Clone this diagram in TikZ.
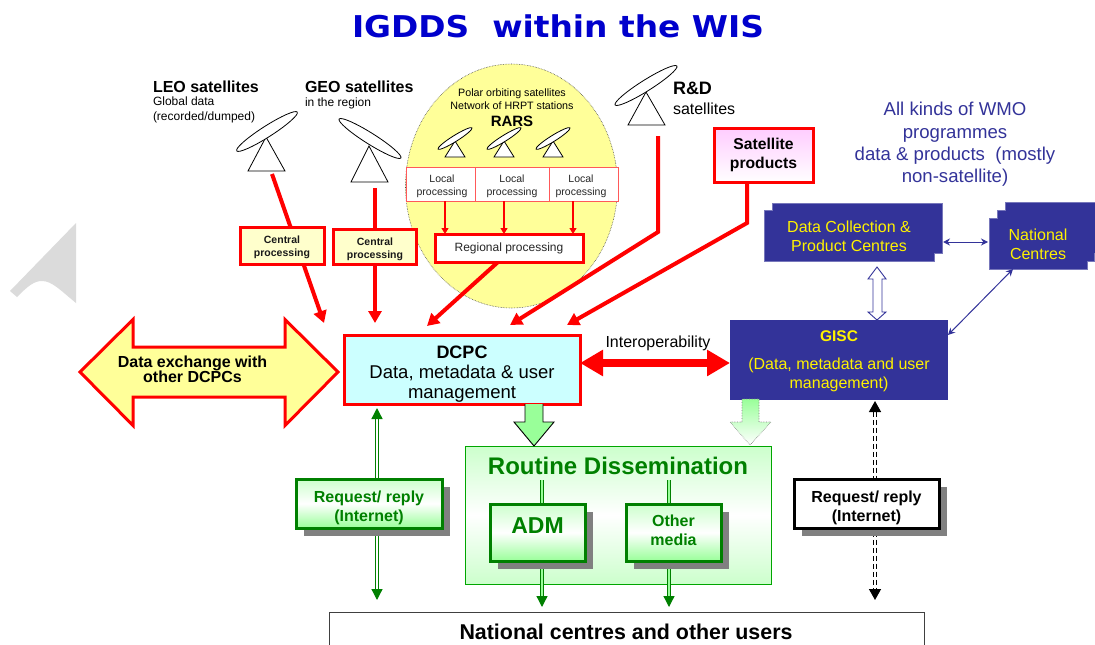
\documentclass[tikz,border=0pt]{standalone}
\usepackage{fontspec}
\setmainfont{Liberation Sans}
\newfontfamily\titlefont{DejaVu Sans}
\usetikzlibrary{arrows.meta,shadows,calc}
\pgfdeclarelayer{bg}\pgfdeclarelayer{links}
\pgfsetlayers{bg,links,main}
\definecolor{navy}{HTML}{333399}
\definecolor{navyl}{HTML}{7777BB}
\definecolor{ylw}{HTML}{FFFF99}
\definecolor{lylw}{HTML}{FFFFCC}
\definecolor{grn}{HTML}{008000}
\definecolor{lgrn}{HTML}{99FF99}
\definecolor{pgrn}{HTML}{CCFFCC}
\definecolor{lcyan}{HTML}{CCFFFF}
\definecolor{lmag}{HTML}{FFCCFF}
\definecolor{tblue}{HTML}{0000CC}
\newcommand{\fs}[2]{\fontsize{#1}{#2}\selectfont}
\tikzset{
 x=1pt,y=-1pt,
 every node/.style={inner sep=0pt,outer sep=0pt,align=center},
 boxn/.style 2 args={minimum width=#1,minimum height=#2},
 lefttxt/.style={anchor=west,align=left},
 dish/.style={draw=black,line width=.8,fill=white},
 redbold/.style={draw=red,line width=3},
 cent/.style={redbold,fill=lylw},
 centt/.style={font=\fs{10.5}{13}\bfseries,text=black!90},
 localb/.style={draw=red!65,line width=.9,fill=white},
 localt/.style={font=\fs{10.5}{13.2},text=black!85},
 redarrow/.style={draw=red,line width=4,line join=miter,-{Triangle[length=12,width=13]}},
 thinred/.style={draw=red,line width=1.2,-{Triangle[length=6,width=7]}},
 navyb/.style={text=yellow,font=\fs{16}{19}},
 navyarrow/.style={draw=navy,line width=1,{Stealth[length=7,width=7]}-{Stealth[length=7,width=7]}},
 gshadow/.style={general shadow={fill=black!50,shadow xshift=8pt,shadow yshift=-8pt}},
 gbox/.style={draw=grn,line width=3,gshadow,top color=pgrn,bottom color=lgrn,middle color=white},
 gdouble/.style={draw=grn,line width=1.3,double=white,double distance=2,{Triangle[length=11,width=11]}-{Triangle[length=11,width=11]}},
 gdown/.style={draw=grn,line width=1.3,double=lgrn,double distance=2,-{Triangle[length=11,width=11]}},
 kdouble/.style={draw=black,line width=1.4,double=white,double distance=1.4,dash pattern=on 5pt off 3pt,{Triangle[length=11,width=12]}-{Triangle[length=11,width=12]}},
 gtext/.style={text=grn,font=\fs{16}{19}\bfseries},
}
\begin{document}
\begin{tikzpicture}
\useasboundingbox (0,0) rectangle (1095,645);
\clip (0,0) rectangle (1095,645);

\node[text=tblue,font=\titlefont\fs{30}{32}\bfseries] (title) at (558,26) {\scalebox{1.095}[1]{IGDDS\ \ within the WIS}};

% grey mark
\fill[black!14] (76,223) -- (10,291) -- (17,297) .. controls (28,286) and (34,281) .. (42,281) .. controls (52,281) and (60,290) .. (76,303) -- cycle;

% RARS ellipse
\begin{pgfonlayer}{bg}
\draw[fill=ylw,draw=black!70,densely dotted,line width=.6] (511.5,186) ellipse [x radius=106,y radius=122];
\end{pgfonlayer}

% Dishes
\draw[dish] (266,137) -- (248,171) -- (285,171) -- cycle;
\draw[dish,rotate around={32.6:(267,131.5)}] (267,131.5) ellipse [x radius=36,y radius=5.5];
\draw[dish] (369,146) -- (351,182) -- (388,182) -- cycle;
\draw[dish,rotate around={-32.2:(370,138.5)}] (370,138.5) ellipse [x radius=36.5,y radius=5.5];
\draw[dish] (646,92) -- (628,125) -- (665,125) -- cycle;
\draw[dish,rotate around={32.2:(646,85.5)}] (646,85.5) ellipse [x radius=36.5,y radius=5.5];
\foreach \dx in {455,504,553}{
 \draw[dish] (\dx,141) -- (\dx-10,157) -- (\dx+10,157) -- cycle;
 \draw[dish,rotate around={32:(\dx,138.5)}] (\dx,138.5) ellipse [x radius=20,y radius=3];
}

% Labels top
\node[lefttxt,font=\fs{16}{17}\bfseries] (leo) at (153,87) {LEO satellites};
\node[lefttxt,font=\fs{12}{15}] (leod) at (153,110) {Global data\\(recorded/dumped)};
\node[lefttxt,font=\fs{16}{17}\bfseries] (geo) at (305,87) {GEO satellites};
\node[lefttxt,font=\fs{12}{15}] (geod) at (305,103) {in the region};
\node[font=\fs{10.7}{13}] (polar) at (512,99) {Polar orbiting satellites\\Network of HRPT stations};
\node[font=\fs{15}{17}\bfseries] (rars) at (512,121) {RARS};
\node[lefttxt,font=\fs{18}{18}\bfseries] (rd) at (673,88) {R\&D};
\node[lefttxt,font=\fs{16}{17}] (rds) at (673,109) {satellites};
\node[text=navy,font=\fs{18.6}{22.4}] (wmo) at (955,144.5) {All kinds of WMO\\programmes\\data \& products\ \ (mostly\\non-satellite)};

% Local / regional
\node[localb,boxn={69}{34}] (l1) at (440.5,184) {};
\node[localt] (l1t) at (442,186) {Local\\processing};
\node[localb,boxn={74}{34}] (l2) at (512,184) {};
\node[localt] (l2t) at (512,186) {Local\\processing};
\node[localb,boxn={69}{34}] (l3) at (583.5,184) {};
\node[localt] (l3t) at (581,186) {Local\\processing};
\node[draw=red,line width=3,fill=white,boxn={148}{28},font=\fs{12}{15},text=black!85] (reg) at (509,248) {Regional processing};
\draw[thinred] (l1.south -| 445,0) -- (reg.north -| 445,0);
\draw[thinred] (l2.south -| 504,0) -- (reg.north -| 504,0);
\draw[thinred] (l3.south -| 573,0) -- (reg.north -| 573,0);

% Central, sat products
\node[cent,boxn={84}{37}] (c1) at (282,245.5) {};
\node[centt] (c1t) at (282,247) {Central\\processing};
\node[cent,boxn={83}{35}] (c2) at (374.5,246.5) {};
\node[centt] (c2t) at (375,249) {Central\\processing};
\node[redbold,boxn={99}{54},top color=lmag,bottom color=white,font=\fs{15.7}{19}\bfseries] (prod) at (763.5,155) {Satellite\\products};

% DCPC etc
\node[redbold,fill=lcyan,boxn={236}{69}] (dcpc) at (462,369.5) {};
\node[font=\fs{18}{20}\bfseries] (dcpcn) at (462,352) {DCPC};
\node[font=\fs{18.5}{20}] (dcpct) at (462,384) {Data, metadata \& user\\management};
\draw[fill=ylw,draw=red,line width=3,line join=miter] (80,372) -- (133,319.5) -- (133,347) -- (285,347) -- (285,319.5) -- (338,372) -- (285,425.5) -- (285,397) -- (133,397) -- (133,425.5) -- cycle;
\node[font=\fs{16}{15}\bfseries] (dex) at (192.5,369.5) {Data exchange with\\other DCPCs};

\node[fill=navy,draw=none,boxn={218}{80}] (gisc) at (839,359.5) {};
\node[text=yellow,font=\fs{15.5}{16}\bfseries] (gisct) at (839,336) {GISC};
\node[navyb] (giscd) at (839,374.5) {(Data, metadata and user\\management)};
\node[font=\fs{16}{17}] (inter) at (658,343) {Interoperability};
\coordinate (ia) at (dcpc.east |- 0,363);
\coordinate (ib) at (gisc.west |- 0,363);
\draw[draw=red,line width=8,{Triangle[length=23,width=25]}-{Triangle[length=23,width=25]}] (ia) -- (ib);

% Stacked navy
\draw[fill=navy,draw=navyl,line width=.6] (772,203) -- (942,203) -- (942,253) -- (934,253) -- (934,261) -- (764,261) -- (764,210) -- (772,210) -- cycle;
\node[navyb,boxn={170}{51}] (dcp) at (849,236.5) {Data Collection \&\\Product Centres};
\draw[fill=navy,draw=navyl,line width=.6] (1005,202) -- (1100,202) -- (1100,253) -- (1094.5,253) -- (1094.5,261) -- (1087,261) -- (1087,269) -- (989,269) -- (989,218) -- (997,218) -- (997,210) -- (1005,210) -- cycle;
\node[navyb,boxn={98}{51}] (nat) at (1038,244) {National\\Centres};
\draw[navyarrow] (943,242) -- (988,242);
\coordinate (d1) at (1013,269);
\coordinate (d2) at (948,335);
\draw[navyarrow] (d1) -- (d2);
\draw[fill=white,draw=navy,line width=.9] (877,267) -- (886,279) -- (882,279) -- (882,312) -- (886,312) -- (877,320) -- (868,312) -- (873,312) -- (873,279) -- (868,279) -- cycle;

% Routine
\begin{pgfonlayer}{bg}
\node[draw=green!65!black,line width=.9,top color=pgrn,bottom color=pgrn,middle color=white,boxn={306}{138}] (rout) at (618,515) {};
\end{pgfonlayer}
\node[text=grn,font=\fs{24}{26}\bfseries] (routt) at (618,466) {Routine Dissemination};

% fat arrows
\draw[draw=black,line width=.9,fill=lgrn] (525,404) -- (525,422) -- (514,422) -- (534,446) -- (554,422) -- (543,422) -- (543,404);
\shade[top color=lgrn,bottom color=white,draw=black!50,densely dotted,line width=.6] (742,399) -- (742,422) -- (730,422) -- (750,445) -- (771,422) -- (759,422) -- (759,399) -- cycle;

% boxes
\node[gbox,boxn={146}{49}] (rq1) at (369,503.5) {};
\node[gtext] (rq1t) at (369,507.5) {Request/ reply\\(Internet)};
\node[gbox,boxn={95}{57}] (adm) at (537.5,532.5) {};
\node[text=grn,font=\fs{23}{26}\bfseries] (admt) at (537.5,525.5) {ADM};
\node[gbox,boxn={95}{57}] (oth) at (673.5,532.5) {};
\node[gtext] (otht) at (673.5,530) {Other\\media};
\node[draw=black,line width=3,fill=white,gshadow,boxn={145}{49}] (rq2) at (866.5,503.5) {};
\node[font=\fs{16}{19}\bfseries] (rq2t) at (866.5,507.5) {Request/ reply\\(Internet)};
\node[draw=black!75,line width=1,fill=white,boxn={595}{50},anchor=north west] (users) at (329,612) {};
\node[font=\fs{21.4}{22}\bfseries] (userst) at (626,632) {National centres and other users};

% connectors
\coordinate (s1) at (272,174);
\coordinate (s1e) at (324,323);
\coordinate (s2) at (375,188);
\coordinate (s2e) at (375,323);
\coordinate (s3e) at (427,326);
\coordinate (s4) at (658,136);
\coordinate (s4m) at (658,232);
\coordinate (s4e) at (510,325);
\coordinate (s5m) at (747,223);
\coordinate (s5e) at (567,325);
\coordinate (g1a) at (377,408);
\coordinate (g1b) at (377,600);
\coordinate (g2a) at (542,480);
\coordinate (g2b) at (542,607);
\coordinate (g3a) at (669,480);
\coordinate (g3b) at (669,607);
\coordinate (k1a) at (875,401);
\coordinate (k1b) at (875,600);
\begin{pgfonlayer}{links}
\draw[redarrow] (s1) -- (s1e);
\draw[redarrow] (s2) -- (s2e);
\draw[redarrow] (reg.south -| 498,0) -- (s3e);
\draw[redarrow] (s4) -- (s4m) -- (s4e);
\draw[redarrow] (prod.south -| 747,0) -- (s5m) -- (s5e);
\draw[gdouble] (g1a) -- (g1b);
\draw[gdown] (g2a) -- (g2b);
\draw[gdown] (g3a) -- (g3b);
\draw[kdouble] (k1a) -- (k1b);
\end{pgfonlayer}
\end{tikzpicture}
\end{document}
